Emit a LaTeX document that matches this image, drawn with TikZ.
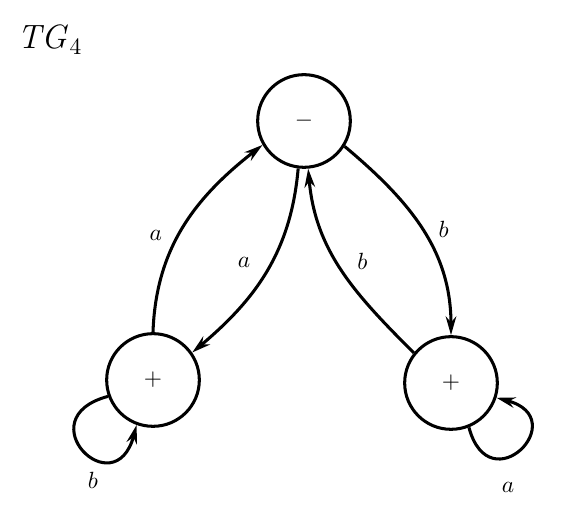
\documentclass[tikz,border=0pt]{standalone}
\usepackage{amsmath}
\usepackage{tikz}
\usetikzlibrary{arrows.meta}

\begin{document}
\begin{tikzpicture}[>={Stealth[length=8pt,width=4.5pt]},x=0.015cm,y=0.015cm,
    statenode/.style={draw,circle,line width=1.3pt,minimum size=1.39cm,inner sep=0pt},
    trans/.style={->,line width=1.3pt}]
        \useasboundingbox (0,0) rectangle (565,510);
        % Title
        \node (title) at (50,470) {\Large $\mathit{TG}_4$};
        % States
        \node[statenode] (m) at (304,389) {$-$};
        \node[statenode] (p1) at (153,130) {$+$};
        \node[statenode] (p2) at (451,127) {$+$};
        % Transitions
        \draw[trans] (p1.90) to[out=88,in=218] node[pos=0.45,left=3pt] {$a$} (m.210);
        \draw[trans] (m.263) to[out=265,in=40] node[pos=0.45,left=5pt] {$a$} (p1.35);
        \draw[trans] (p2.141) to[out=135,in=275] node[pos=0.55,right=5pt] {$b$} (m.275);
        \draw[trans] (m.328) to[out=-40,in=90] node[pos=0.5,right=3pt] {$b$} (p2.90);
        % Loops
        \draw[trans] (p1.200) .. controls +(195:85) and +(255:85) .. (p1.250);
        \node (lb) at (93,30) {$b$};
        \draw[trans] (p2.292) .. controls +(285:80) and +(345:80) .. (p2.342);
        \node (la) at (508,23) {$a$};
      \end{tikzpicture}
\end{document}
